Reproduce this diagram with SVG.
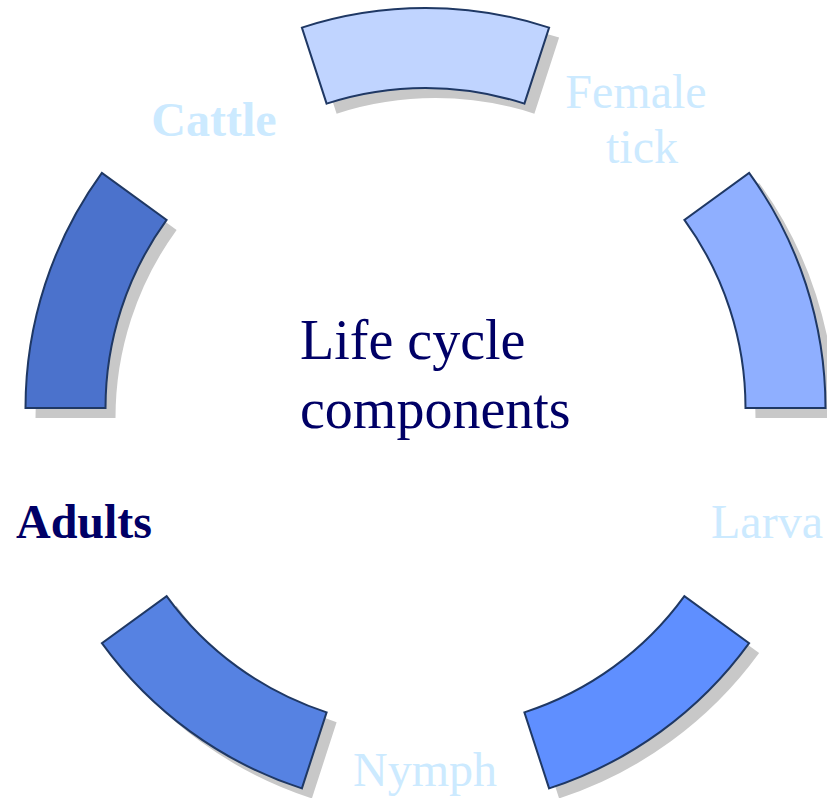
<svg xmlns="http://www.w3.org/2000/svg" width="827" height="798" viewBox="0 0 827 798">
<style>
.seg{stroke:#1F3864;stroke-width:2;stroke-linejoin:miter}
.shadow{fill:#c8c8c8;stroke:none}
.lbl{font-family:"Liberation Serif","Times New Roman",serif;font-size:48px;text-anchor:middle;fill:#CCEAFF}
.bold{font-weight:bold}
.center{font-family:"Liberation Serif","Times New Roman",serif;font-size:56px;fill:#000066}
</style>
<rect width="827" height="798" fill="#ffffff"/>
<g id="connectors">
  <g class="shadow" transform="translate(10,10)">
    <path d="M549.11,27.58 A400,400 0 0 0 301.89,27.58 L326.61,103.66 A320,320 0 0 1 524.39,103.66 Z"/>
    <path d="M825.5,408 A400,400 0 0 0 749.11,172.89 L684.39,219.91 A320,320 0 0 1 745.5,408 Z"/>
    <path d="M101.89,172.89 A400,400 0 0 0 25.5,408 L105.5,408 A320,320 0 0 1 166.61,219.91 Z"/>
    <path d="M101.89,643.11 A400,400 0 0 0 301.89,788.42 L326.61,712.34 A320,320 0 0 1 166.61,596.09 Z"/>
    <path d="M549.11,788.42 A400,400 0 0 0 749.11,643.11 L684.39,596.09 A320,320 0 0 1 524.39,712.34 Z"/>
  </g>
  <path id="arc-top" class="seg" fill="#C0D4FF" d="M549.11,27.58 A400,400 0 0 0 301.89,27.58 L326.61,103.66 A320,320 0 0 1 524.39,103.66 Z"/>
  <path id="arc-right" class="seg" fill="#8FAFFF" d="M825.5,408 A400,400 0 0 0 749.11,172.89 L684.39,219.91 A320,320 0 0 1 745.5,408 Z"/>
  <path id="arc-left" class="seg" fill="#4B72CC" d="M101.89,172.89 A400,400 0 0 0 25.5,408 L105.5,408 A320,320 0 0 1 166.61,219.91 Z"/>
  <path id="arc-bottom-left" class="seg" fill="#5682E2" d="M101.89,643.11 A400,400 0 0 0 301.89,788.42 L326.61,712.34 A320,320 0 0 1 166.61,596.09 Z"/>
  <path id="arc-bottom-right" class="seg" fill="#5F8FFF" d="M549.11,788.42 A400,400 0 0 0 749.11,643.11 L684.39,596.09 A320,320 0 0 1 524.39,712.34 Z"/>
</g>
<g id="node-cattle"><text class="lbl bold" x="214" y="136">Cattle</text></g>
<g id="node-female-tick"><text class="lbl" x="636" y="108">Female</text><text class="lbl" x="642" y="163">tick</text></g>
<g id="node-larva"><text class="lbl" x="767" y="538">Larva</text></g>
<g id="node-nymph"><text class="lbl" x="425" y="786">Nymph</text></g>
<g id="node-adults"><text class="lbl bold" x="84" y="538" fill="#000066" style="fill:#000066">Adults</text></g>
<g id="center-title"><text class="center" x="300" y="359">Life cycle</text><text class="center" x="300" y="428">components</text></g>
</svg>
